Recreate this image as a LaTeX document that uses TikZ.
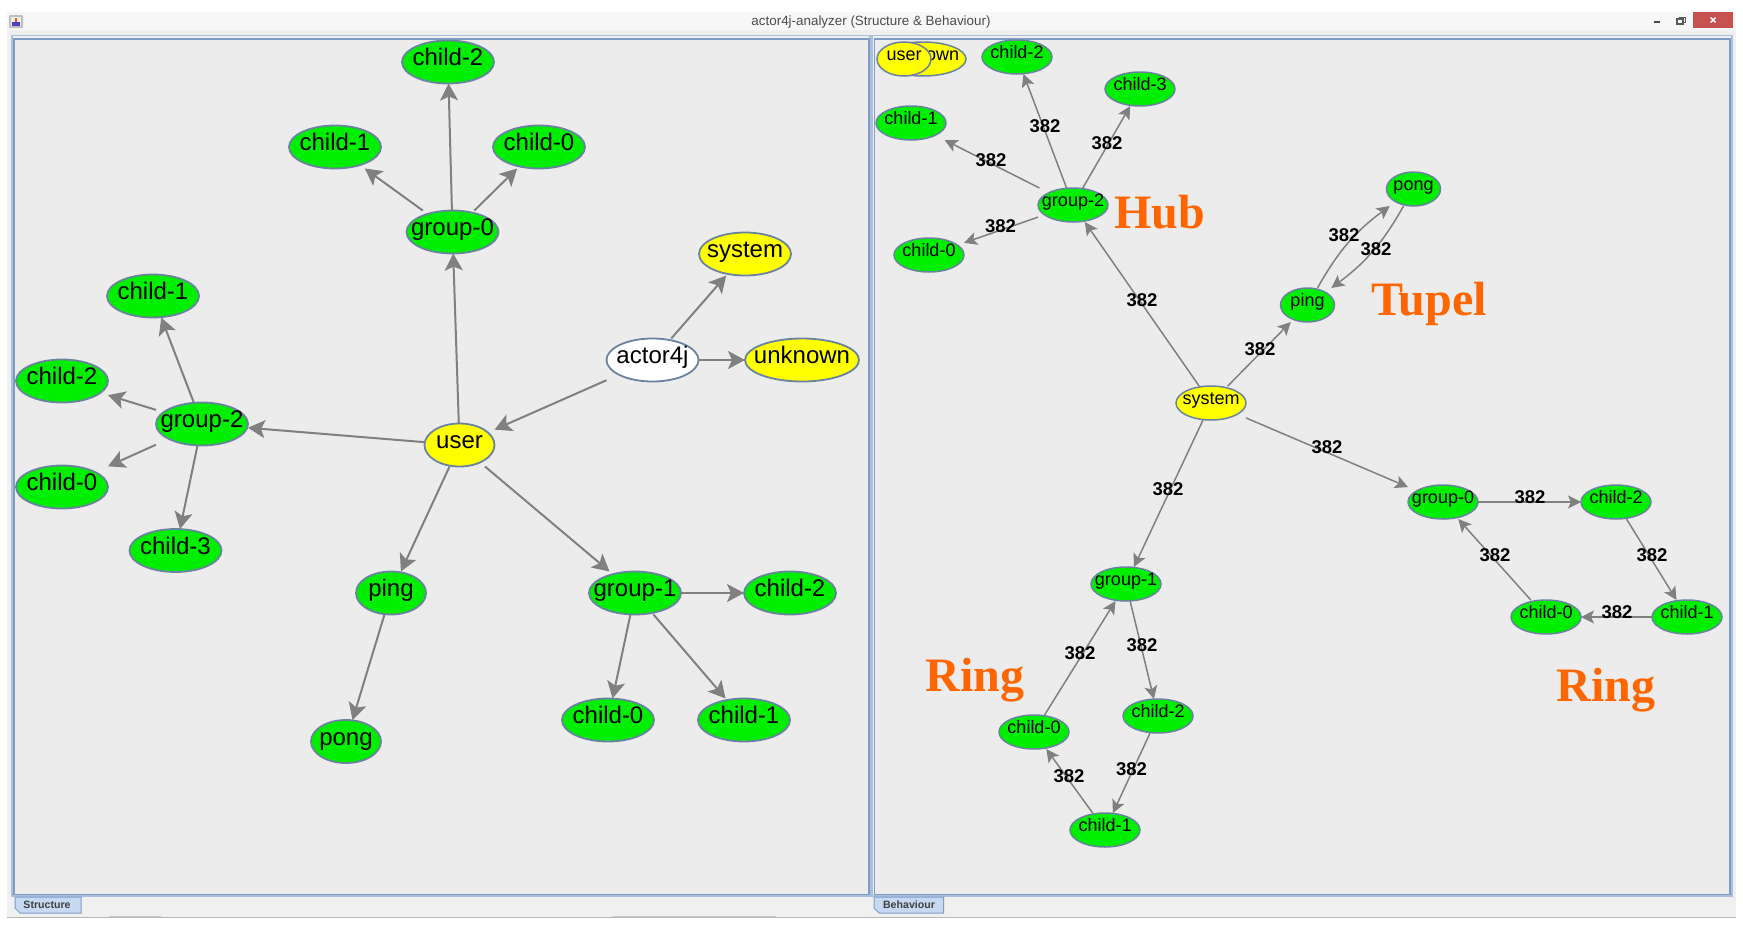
\documentclass[tikz,border=0pt]{standalone}
\usepackage{fontspec}
\setmainfont{Liberation Sans}
\newfontfamily\serifbold{Liberation Serif}[BoldFont={Liberation Serif Bold}]
\usetikzlibrary{arrows.meta}
\definecolor{panelbg}{HTML}{ECECEC}
\definecolor{winbg}{HTML}{F0F0F0}
\definecolor{frameA}{HTML}{A9BFDE}
\definecolor{frameB}{HTML}{7F9CC9}
\definecolor{nodeline}{HTML}{6A84A0}
\definecolor{vgreen}{HTML}{00EE00}
\definecolor{vyellow}{HTML}{FFFF00}
\definecolor{edgegray}{HTML}{808080}
\definecolor{noteorange}{HTML}{FF6600}
\definecolor{tabblue}{HTML}{C5D9F1}
\definecolor{closered}{HTML}{C75050}
\makeatletter
\pgfdeclareshape{ovalbox}{
  \inheritsavedanchors[from=rectangle]
  \inheritanchor[from=rectangle]{text}
  \inheritanchor[from=rectangle]{center}
  \inheritanchor[from=rectangle]{north}
  \inheritanchor[from=rectangle]{south}
  \inheritanchor[from=rectangle]{east}
  \inheritanchor[from=rectangle]{west}
  \inheritanchor[from=rectangle]{mid}
  \inheritanchor[from=rectangle]{base}
  \inheritanchorborder[from=rectangle]
  \backgroundpath{
    \southwest \pgf@xa=\pgf@x \pgf@ya=\pgf@y
    \northeast \pgf@xb=\pgf@x \pgf@yb=\pgf@y
    \edef\ovcx{\the\dimexpr(\pgf@xa+\pgf@xb)/2\relax}
    \edef\ovcy{\the\dimexpr(\pgf@ya+\pgf@yb)/2\relax}
    \edef\ovrx{\the\dimexpr(\pgf@xb-\pgf@xa)/2\relax}
    \edef\ovry{\the\dimexpr(\pgf@yb-\pgf@ya)/2\relax}
    \pgfpathellipse{\pgfqpoint{\ovcx}{\ovcy}}{\pgfqpoint{\ovrx}{0pt}}{\pgfqpoint{0pt}{\ovry}}
  }
}
\makeatother
\tikzset{
  bignode/.style={shape=ovalbox,draw=nodeline,line width=1.8pt,inner sep=0pt,outer sep=0pt,
    minimum width=92pt,minimum height=43pt,font=\fontsize{24}{24}\selectfont,text height=7.2pt,text depth=0pt},
  bignarrow/.style={bignode,minimum width=70pt},
  bigwide/.style={bignode,minimum width=114pt},
  smallnode/.style={shape=ovalbox,draw=nodeline,line width=1.5pt,inner sep=0pt,outer sep=0pt,
    minimum width=70pt,minimum height=34pt,font=\fontsize{18}{18}\selectfont,text height=3pt,text depth=0pt},
  smallnarrow/.style={smallnode,minimum width=54pt},
  smallwide/.style={smallnode,minimum width=86pt},
  green/.style={fill=vgreen},
  yellow/.style={fill=vyellow},
  bigedge/.style={draw=edgegray,line width=2pt,-{Stealth[length=17pt,width=18pt,inset=4pt]}},
  smalledge/.style={draw=edgegray,line width=1.5pt,-{Stealth[length=13pt,width=13pt,inset=3pt]}},
  count/.style={font=\fontsize{18.5}{18.5}\selectfont\bfseries,inner sep=0pt},
  note/.style={font=\fontsize{48}{48}\selectfont\serifbold\bfseries,text=noteorange,inner sep=0pt},
  tabtext/.style={font=\fontsize{10.6}{10.6}\selectfont\bfseries,text=black!75,inner sep=0pt},
  panel/.style={fill=panelbg,draw=frameB,line width=1.3pt},
}
\begin{document}
\begin{tikzpicture}[x=1pt,y=-1pt]
\useasboundingbox (0,0) rectangle (1743,929);
\fill[white] (0,0) rectangle (1743,929);
% window
\fill[winbg] (7,12) rectangle (1736,918);
\fill[white!97!black] (7,12) rectangle (1736,30);
\draw[black!28,line width=1.3pt] (7,917.5) -- (1736,917.5);
\draw[black!20,line width=.8pt] (109,917) -- (109,916) -- (160,916) -- (160,917);
\draw[black!20,line width=.8pt] (612,917) -- (612,916) -- (775,916) -- (775,917);
% title bar
\node[inner sep=0pt,font=\fontsize{13.4}{13.4}\selectfont,text=black!70] (title) at (871,22) {actor4j-analyzer (Structure \& Behaviour)};
\fill[black!25,rounded corners=1pt] (9,15) rectangle (23,28);
\fill[black!8] (11,17) rectangle (21,26);
\fill[orange!70!red] (14.5,17.5) rectangle (17,22);
\fill[blue!45!gray] (12,22) rectangle (20,25.5);
\fill[black!70] (1654,21) rectangle (1660,23);
\draw[black!65,line width=1.2pt] (1677,19) rectangle (1683,24);
\draw[black!65,line width=1pt] (1679,19) -- (1679,17) -- (1685,17) -- (1685,22) -- (1683,22);
\fill[closered] (1693,12) rectangle (1733,28);
\draw[white,line width=1.4pt] (1710.5,17.5) -- (1715.5,22.5) (1710.5,22.5) -- (1715.5,17.5);
% panels
\draw[frameA,line width=1.6pt] (12,35.5) rectangle (870,896);
\draw[panel] (14,39) rectangle (869,894.5);
\draw[frameA,line width=1.6pt] (872,35.5) rectangle (1732,896);
\draw[panel] (874.5,39) rectangle (1730,894.5);
% tabs
\draw[frameB,fill=tabblue,line width=1pt] (15,897) -- (81,897) -- (81,913) -- (20,913) -- (15,908) -- cycle;
\node[tabtext] (tabS) at (47,905) {Structure};
\draw[frameB,fill=tabblue,line width=1pt] (874,897) -- (943.5,897) -- (943.5,913) -- (879,913) -- (874,908) -- cycle;
\node[tabtext] (tabB) at (909,905) {Behaviour};
% ---------- structure graph
\node[bignode,green] (s-g0-c2) at (448,62) {child-2};
\node[bignode,green] (s-g0-c1) at (335,147) {child-1};
\node[bignode,green] (s-g0-c0) at (539,147) {child-0};
\node[bignode,green] (s-g0) at (452.5,232) {group-0};
\node[bignode,yellow] (s-system) at (745,254) {system};
\node[bignode,fill=white] (s-actor) at (652.5,360) {actor4j};
\node[bigwide,yellow] (s-unknown) at (802,360) {unknown};
\node[bignode,green] (s-g2-c1) at (153,296) {child-1};
\node[bignode,green] (s-g2-c2) at (62,381) {child-2};
\node[bignode,green] (s-g2) at (202,424) {group-2};
\node[bignarrow,yellow] (s-user) at (459.5,445) {user};
\node[bignode,green] (s-g2-c0) at (62,487) {child-0};
\node[bignode,green] (s-g2-c3) at (175.5,550.5) {child-3};
\node[bignarrow,green] (s-ping) at (391,593) {ping};
\node[bignode,green] (s-g1) at (635,593) {group-1};
\node[bignode,green] (s-g1-c2) at (790,593) {child-2};
\node[bignode,green] (s-g1-c0) at (608,720) {child-0};
\node[bignode,green] (s-g1-c1) at (744,720) {child-1};
\node[bignarrow,green] (s-pong) at (346,741.5) {pong};
\foreach \a/\b in {s-actor/s-system,s-actor/s-unknown,s-actor/s-user,
  s-user/s-g0,s-user/s-g2,s-user/s-ping,s-user/s-g1,
  s-g0/s-g0-c2,s-g0/s-g0-c1,s-g0/s-g0-c0,
  s-g2/s-g2-c1,s-g2/s-g2-c2,s-g2/s-g2-c0,s-g2/s-g2-c3,
  s-ping/s-pong,s-g1/s-g1-c2,s-g1/s-g1-c0,s-g1/s-g1-c1}
  \draw[bigedge] (\a) -- (\b);
% ---------- behaviour graph
\node[smallwide,yellow] (b-unknown) at (923,59) {unknown};
\node[smallnarrow,yellow] (b-user) at (904,59) {user};
\node[smallnode,green] (b-g2-c2) at (1017,57) {child-2};
\node[smallnode,green] (b-g2-c3) at (1140,89) {child-3};
\node[smallnode,green] (b-g2-c1) at (911,123) {child-1};
\node[smallnode,green] (b-g2) at (1073,205) {group-2};
\node[smallnode,green] (b-g2-c0) at (929,255) {child-0};
\node[smallnarrow,green] (b-pong) at (1413.5,189) {pong};
\node[smallnarrow,green] (b-ping) at (1307.5,305) {ping};
\node[smallnode,yellow] (b-system) at (1211,403) {system};
\node[smallnode,green] (b-g0) at (1443,502) {group-0};
\node[smallnode,green] (b-g0-c2) at (1616,502) {child-2};
\node[smallnode,green] (b-g0-c1) at (1687,617) {child-1};
\node[smallnode,green] (b-g0-c0) at (1546,617) {child-0};
\node[smallnode,green] (b-g1) at (1126,584) {group-1};
\node[smallnode,green] (b-g1-c2) at (1158,716) {child-2};
\node[smallnode,green] (b-g1-c0) at (1034,732) {child-0};
\node[smallnode,green] (b-g1-c1) at (1105,830) {child-1};
\foreach \a/\b in {b-system/b-g2,b-system/b-ping,b-system/b-g1,b-system/b-g0,
  b-g2/b-g2-c1,b-g2/b-g2-c2,b-g2/b-g2-c3,b-g2/b-g2-c0,
  b-g0/b-g0-c2,b-g0-c2/b-g0-c1,b-g0-c1/b-g0-c0,b-g0-c0/b-g0,
  b-g1/b-g1-c2,b-g1-c2/b-g1-c1,b-g1-c1/b-g1-c0,b-g1-c0/b-g1}
  \draw[smalledge] (\a) -- (\b);
\draw[smalledge] (b-ping) to[bend left=12] (b-pong);
\draw[smalledge] (b-pong) to[bend left=12] (b-ping);
% counts
\foreach \n/\x/\y in {l1/1045/126,l2/1107/143,l3/991/160,l4/1000.5/226,l5/1344/235,l6/1376/249,
  l7/1142/300,l8/1260/349,l9/1327/447,l10/1168/489,l11/1530/497,l12/1495/555,l13/1652/555,
  l14/1617/612,l15/1080/653,l16/1142/645,l17/1069/776,l18/1131.5/769}
  \node[count] (\n) at (\x,\y) {382};
% notes
\node[note] (hub) at (1160,212) {Hub};
\node[note] (tupel) at (1429,304) {Tupel};
\node[note] (ring1) at (975,680) {Ring};
\node[note] (ring2) at (1606,690) {Ring};
\end{tikzpicture}
\end{document}
